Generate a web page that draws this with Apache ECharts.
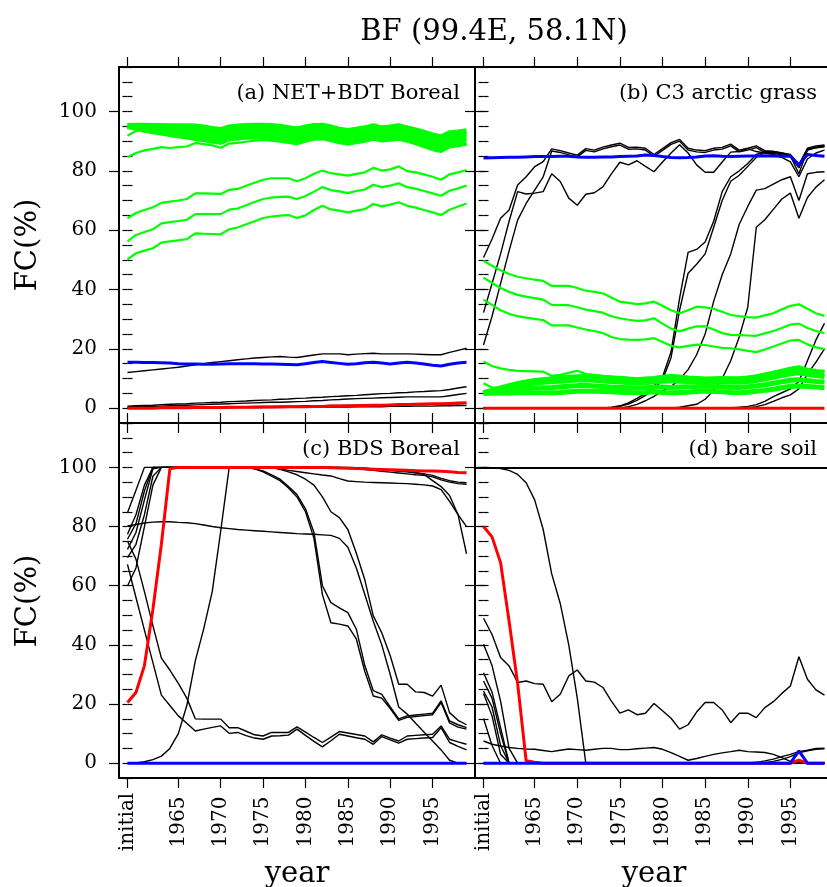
<!DOCTYPE html>
<html><head><meta charset="utf-8">
<script src="https://cdn.jsdelivr.net/npm/echarts@6/dist/echarts.min.js"></script>
<style>html,body{margin:0;padding:0;background:#fff}#c{width:827px;height:887px}</style>
</head><body><div id="c"></div>
<script>
// ---------- tick labels ----------
const tickPos = [0, 6, 11, 16, 21, 26, 31, 36];
const tickLabels = ['initial', '1965', '1970', '1975', '1980', '1985', '1990', '1995'];
const yTicks = [0, 20, 40, 60, 80, 100];
const panelTitles = ['(a) NET+BDT Boreal', '(b) C3 arctic grass', '(c) BDS Boreal', '(d) bare soil'];
const dTopLine = 100;

// ---------- panel (a) ----------
const aBandTop = [95.3,95.4,95.4,95.3,95.3,95.2,95.2,95.2,95.1,94.8,
94.3,93.9,94.8,95.1,95.3,95.4,95.4,95.3,95.0,94.5,
94.1,94.8,95.3,95.4,94.8,94.0,93.6,94.0,94.5,95.2,
94.5,94.8,95.2,94.5,93.8,93.0,92.1,91.4,92.8,93.1,
93.5];
const aBand2 = [95.3,95.2,95.0,94.7,94.5,94.3,94.2,94.0,93.8,93.4,
93.0,92.6,93.6,93.9,94.1,94.2,94.3,94.0,93.7,93.2,
92.8,93.6,94.1,94.3,93.6,92.9,92.4,92.8,93.3,94.0,
93.3,93.7,94.1,93.4,92.6,91.7,90.8,90.0,91.5,91.9,
92.4];
const aBand3 = [95.1,94.7,94.3,94.0,93.6,93.2,92.9,92.6,92.3,91.9,
91.5,91.1,92.2,92.5,92.7,92.8,92.9,92.6,92.2,91.8,
91.3,92.1,92.7,92.9,92.2,91.5,91.0,91.4,91.9,92.6,
92.0,92.3,92.7,92.0,91.2,90.2,89.3,88.5,90.1,90.5,
91.0];
const aBand4 = [94.9,94.3,93.7,93.2,92.7,92.2,91.8,91.4,90.9,90.5,
90.0,89.6,90.8,91.1,91.3,91.4,91.4,91.1,90.7,90.3,
89.9,90.7,91.3,91.5,90.8,90.1,89.6,90.0,90.5,91.2,
90.6,90.9,91.3,90.6,89.8,88.8,87.8,87.0,88.6,89.0,
89.5];
const aGreen92 = [91.8,93.4,94.3,94.6,94.8,94.6,94.5,94.4,94.3,93.9,
93.5,93.2,94.1,94.4,94.6,94.7,94.8,94.6,94.3,93.8,
93.4,94.1,94.6,94.8,94.1,93.4,93.0,93.4,93.9,94.6,
93.9,94.3,94.7,94.0,93.3,92.4,91.5,90.8,92.2,92.6,
93.0];
const aGreen85 = [84.6,86.0,86.9,87.4,88.0,87.7,88.0,88.2,89.4,89.0,
88.6,87.8,89.2,89.4,89.8,90.2,90.4,90.2,89.8,89.4,
89.0,89.8,90.5,90.7,90.0,89.3,88.9,89.3,89.8,90.5,
89.9,90.2,90.5,89.8,89.0,88.0,87.0,86.4,87.9,88.3,
88.8];
const aGreen64 = [64.0,65.8,66.8,67.7,69.2,69.6,70.0,70.5,72.4,72.4,
72.3,72.2,73.6,73.9,75.0,76.0,77.0,77.5,77.5,77.5,
76.5,77.5,79.0,80.1,79.2,78.8,78.4,79.0,79.5,81.0,
80.1,80.5,81.5,79.9,79.5,78.8,78.0,77.0,78.8,79.5,
80.3];
const aGreen56 = [56.2,58.4,59.4,60.3,62.3,62.7,63.1,63.5,65.4,65.4,
65.4,65.4,66.9,67.3,68.4,69.5,70.5,71.0,71.2,71.3,
70.5,71.5,73.0,74.5,73.5,73.1,72.5,73.2,73.7,75.3,
74.5,75.0,75.8,74.5,74.0,73.2,72.4,71.6,73.3,74.1,
75.0];
const aGreen50 = [50.2,52.2,53.1,53.9,55.8,56.2,56.6,57.0,58.9,58.8,
58.7,58.6,60.3,60.9,62.0,63.0,64.1,64.6,64.9,65.1,
64.1,65.0,66.8,68.2,67.0,66.6,66.0,66.6,67.1,68.8,
68.0,68.6,69.4,68.2,67.6,66.8,66.0,65.1,66.9,68.0,
69.0];
const aBlack12 = [12.0,12.3,12.6,12.9,13.2,13.5,13.8,14.2,14.6,15.0,
15.4,15.7,16.0,16.3,16.6,16.9,17.1,17.3,17.4,17.2,
17.1,17.5,17.9,18.3,18.3,18.3,18.0,18.2,18.4,18.5,
18.3,18.3,18.3,18.3,18.2,18.1,18.0,18.0,18.8,19.5,
20.2];
const aBlack7 = [0.7,0.8,0.9,1.0,1.2,1.3,1.4,1.5,1.7,1.8,
1.9,2.0,2.2,2.3,2.4,2.6,2.7,2.8,3.0,3.1,
3.3,3.4,3.6,3.7,3.9,4.0,4.2,4.3,4.5,4.7,
4.9,5.0,5.2,5.3,5.5,5.6,5.8,5.9,6.3,6.8,
7.2];
const aBlack5 = [0.4,0.5,0.6,0.6,0.7,0.8,0.9,1.0,1.1,1.2,
1.3,1.4,1.5,1.6,1.7,1.8,1.9,2.0,2.0,2.1,
2.2,2.3,2.5,2.6,2.8,2.9,3.1,3.2,3.3,3.4,
3.5,3.6,3.7,3.8,3.8,3.8,3.8,3.8,4.2,4.6,
5.0];
const aBlack2 = [0.1,0.1,0.1,0.2,0.2,0.2,0.3,0.3,0.3,0.4,
0.4,0.4,0.5,0.5,0.5,0.6,0.6,0.6,0.7,0.7,
0.7,0.8,0.8,0.8,0.9,0.9,0.9,1.0,1.0,1.0,
1.1,1.1,1.1,1.2,1.2,1.2,1.3,1.3,1.4,1.5,
1.6];
const aBlack1 = [0,0,0,0,0,0,0,0.1,0.1,0.1,
0.1,0.1,0.1,0.2,0.2,0.2,0.2,0.2,0.3,0.3,
0.3,0.3,0.3,0.4,0.4,0.4,0.4,0.5,0.5,0.5,
0.5,0.6,0.6,0.6,0.7,0.7,0.7,0.8,0.8,0.9,
0.9];
const aRed = [0,0,0,0,0.1,0.1,0.1,0.1,0.2,0.2,
0.2,0.2,0.3,0.3,0.3,0.3,0.4,0.4,0.4,0.5,
0.5,0.5,0.6,0.6,0.7,0.7,0.8,0.8,0.9,1.0,
1.0,1.1,1.2,1.2,1.3,1.4,1.5,1.5,1.6,1.7,
1.8];
const aBlue = [15.5,15.5,15.4,15.4,15.3,15.2,15.0,14.9,14.9,14.8,
14.8,14.9,15.0,15.0,15.0,15.0,14.9,14.9,14.8,14.7,
14.6,15.0,15.4,15.7,15.4,15.1,14.8,15.0,15.3,15.5,
15.2,14.9,15.2,15.5,15.2,14.9,14.5,14.2,14.8,15.2,
15.5];

// ---------- panel (b) ----------
const bBlue = [84.3,84.4,84.5,84.6,84.6,84.7,84.8,84.8,84.8,84.9,
84.9,84.7,84.6,84.6,84.7,84.7,84.8,84.9,85.0,85.3,
85.2,84.8,84.5,84.4,84.5,84.7,85.0,85.1,84.9,84.8,
84.9,85.0,85.0,85.1,85.0,84.9,85.0,82.0,85.5,85.2,
84.9];
const bRed = [0,0,0,0,0,0,0,0,0,0,
0,0,0,0,0,0,0,0,0,0,
0,0,0,0,0,0,0,0,0,0,
0,0,0,0,0,0,0,0,0,0,
0];
const bGreen50 = [49.7,48.0,46.5,45.2,44.3,43.8,43.3,42.9,41.2,41.2,
41.2,40.5,39.6,39.2,38.7,37.3,35.9,35.5,35.1,35.3,
35.9,34.5,33.0,32.0,33.0,34.2,34.0,33.5,32.5,31.4,
31.0,30.7,30.5,31.3,32.0,33.3,34.5,35.0,33.5,32.0,
31.1];
const bGreen44 = [44.0,42.2,40.5,39.2,38.2,37.6,37.1,36.6,34.8,34.7,
34.7,34.0,33.2,32.7,32.2,31.0,30.3,29.8,29.4,29.6,
30.3,28.5,26.8,25.9,26.8,27.6,27.6,26.5,25.3,24.7,
24.6,24.5,24.4,25.2,26.0,27.0,28.2,28.5,27.0,26.0,
25.3];
const bGreen37 = [36.6,34.8,33.0,31.8,31.0,30.5,30.1,29.7,27.9,27.9,
27.9,27.2,26.5,26.0,25.3,24.0,23.3,23.1,23.0,23.2,
23.6,22.3,21.0,20.5,21.0,21.4,21.3,20.8,20.3,20.2,
19.8,19.3,18.9,19.8,20.8,21.8,22.8,23.0,21.5,20.5,
19.9];
const bGreen16 = [15.7,14.2,13.4,12.9,12.6,12.5,12.4,12.3,10.9,11.2,
11.9,12.6,11.5,11.2,10.8,10.6,10.4,10.1,9.9,9.9,
10.2,10.6,10.9,10.7,10.4,10.2,10.0,10.1,10.2,10.1,
10.1,10.4,10.8,11.4,12.0,12.7,13.3,13.8,13.0,12.6,
12.3];
const bGreen8 = [8.4,7.0,6.8,7.2,7.6,8.0,8.3,8.6,8.9,9.1,
9.3,9.5,9.4,9.2,9.0,8.8,8.6,8.5,8.4,8.3,
8.6,9.0,9.4,9.2,8.9,8.6,8.4,8.5,8.6,8.6,
8.7,8.9,9.3,9.9,10.5,11.2,11.8,12.3,11.6,11.2,
10.9];
const bBand1 = [5.0,5.0,5.1,5.1,5.2,5.2,5.2,5.2,5.2,5.3,
5.5,5.7,5.8,5.7,5.6,5.5,5.4,5.3,5.2,5.3,
5.5,5.3,5.2,5.3,5.4,5.6,5.8,5.6,5.5,5.3,
5.2,5.4,5.7,6.0,6.4,6.9,7.4,7.5,7.3,7.1,
6.9];
const bBand2 = [5.0,5.4,5.8,6.1,6.4,6.6,6.8,6.9,7.0,7.2,
7.4,7.6,7.7,7.5,7.3,7.1,7.0,6.9,6.8,6.9,
7.1,7.1,7.0,7.1,7.2,7.3,7.5,7.3,7.2,7.0,
7.0,7.2,7.5,7.9,8.4,8.9,9.4,9.6,9.3,9.0,
8.8];
const bBand3 = [5.1,5.8,6.6,7.2,7.8,8.2,8.5,8.7,8.9,9.1,
9.3,9.5,9.6,9.4,9.2,9.0,8.8,8.6,8.5,8.6,
8.9,9.1,9.2,9.1,9.0,8.9,8.9,8.8,8.8,8.7,
8.7,8.9,9.3,9.8,10.4,11.0,11.6,11.9,11.4,11.0,
10.7];
const bBand4 = [5.2,6.0,6.8,7.6,8.3,8.8,9.3,9.6,9.9,10.2,
10.4,10.6,10.7,10.6,10.4,10.2,10.1,9.8,9.6,9.8,
10.0,10.4,10.7,10.5,10.2,10.0,9.8,9.9,10.0,9.9,
9.9,10.2,10.6,11.2,11.8,12.5,13.1,13.6,12.8,12.4,
12.1];
const bBlack51 = [50.8,57.0,64.0,66.8,75.2,78.0,81.4,83.1,87.4,86.8,
86.0,85.3,87.5,87.0,88.0,88.7,89.3,87.9,88.0,87.6,
85.5,87.5,89.5,90.6,87.6,87.0,86.8,87.6,87.9,89.0,
87.0,87.6,88.4,86.8,86.5,86.0,85.3,82.0,87.6,88.4,
88.7];
const bBlack32 = [32.2,42.0,52.0,63.0,73.0,72.2,72.5,73.0,79.0,76.4,
70.8,68.4,72.1,72.6,74.6,79.0,82.9,82.0,83.4,81.5,
79.7,83.0,86.0,88.8,86.0,82.0,79.5,79.5,83.0,86.3,
86.5,87.5,86.5,86.0,85.5,84.5,83.0,78.0,84.0,86.0,
87.0];
const bBlack21 = [21.3,31.0,42.0,53.0,63.4,69.0,73.5,78.0,86.7,86.2,
85.4,84.7,86.9,86.4,87.4,88.1,88.7,87.3,87.4,87.0,
84.9,86.9,88.9,90.0,87.0,86.4,86.2,87.0,87.3,88.4,
86.4,87.0,87.8,86.2,85.9,85.4,84.7,81.0,87.0,87.8,
88.1];
const bRise80a = [0,0,0,0,0,0,0,0,0,0,
0,0,0,0,0,0.3,0.8,1.8,3.3,5.0,
7.5,10.5,19.0,37.0,52.5,53.5,56.0,63.0,73.0,78.0,
80.0,82.5,85.5,86.5,86.5,86.0,85.5,82.0,87.5,88.0,
88.5];
const bRise80b = [0,0,0,0,0,0,0,0,0,0,
0,0,0,0,0,0.2,0.6,1.4,2.6,4.3,
6.5,9.5,17.0,33.0,45.5,48.5,52.0,61.0,70.0,76.5,
78.5,81.5,84.5,86.3,86.2,85.8,85.0,79.0,87.0,87.8,
88.3];
const bRise85 = [0,0,0,0,0,0,0,0,0,0,
0,0,0,0,0,0,0,0.5,1.3,2.5,
4.0,5.8,7.3,9.7,13.0,18.0,25.0,36.0,45.0,52.0,
62.0,68.0,73.5,74.0,75.5,77.0,78.0,70.0,79.0,79.5,
79.7];
const bRise90 = [0,0,0,0,0,0,0,0,0,0,
0,0,0,0,0,0,0,0,0,0,
0,0,0,0.3,0.8,1.3,3.0,6.0,10.0,16.0,
24.0,34.0,61.0,63.5,67.0,70.5,72.5,64.0,71.0,74.5,
77.0];
const bRise95a = [0,0,0,0,0,0,0,0,0,0,
0,0,0,0,0,0,0,0,0,0,
0,0,0,0,0,0,0,0,0,0.1,
0.3,0.6,1.2,2.3,3.9,5.2,6.5,9.0,16.0,23.0,
28.6];
const bRise95b = [0,0,0,0,0,0,0,0,0,0,
0,0,0,0,0,0,0,0,0,0,
0,0,0,0,0,0,0,0,0,0,
0.1,0.2,0.5,1.2,2.3,3.5,4.5,6.5,11.5,15.5,
20.0];

// ---------- panel (c) ----------
const cRed = [20.5,23.9,33.0,52.0,74.0,99.5,100,100,100,100,
100,100,100,100,100,100,100,100,100,100,
100,100,100,100,99.9,99.8,99.7,99.6,99.5,99.4,
99.3,99.2,99.1,99.0,98.9,98.8,98.8,98.7,98.5,98.3,
98.2];
const cBlue = [0,0,0,0,0,0,0,0,0,0,
0,0,0,0,0,0,0,0,0,0,
0,0,0,0,0,0,0,0,0,0,
0,0,0,0,0,0,0,0,0,0,
0];
const cHigh1 = [84.7,92.3,100,100,100,100,100,100,100,100,
100,100,100,100,100,100,100,100,100,100,
100,100,100,100,100,100,100,99.9,99.7,99.5,
99.2,99.0,98.7,98.5,98.2,97.8,97.3,96.3,95.5,95.0,
94.8];
const cHigh2 = [77.4,84.0,94.0,100,100,100,100,100,100,100,
100,100,100,100,100,100,100,100,100,100,
100,100,100,100,100,100,99.8,99.6,99.3,99.0,
98.7,98.4,98.1,97.8,97.5,97.3,96.8,95.8,95.0,94.5,
94.3];
const cHigh3 = [75.7,81.0,92.0,100,100,100,100,100,100,100,
100,100,100,100,100,100,100,100,99.5,99.0,
98.6,98.2,97.8,97.4,97.1,96.2,95.4,95.2,95.0,94.9,
94.8,94.7,94.6,94.5,94.3,94.1,93.7,92.5,88.5,84.0,
80.0];
const cHigh4 = [72.3,78.0,89.0,99.5,100,100,100,100,100,100,
100,100,100,100,100,100,100,100,100,100,
100,100,100,100,100,99.9,99.8,99.7,99.6,99.5,
99.3,99.1,98.9,98.6,98.2,97.6,95.5,93.5,90.5,84.0,
70.8];
const cDropA1 = [69.5,74.0,84.0,97.0,100,100,100,100,100,100,
100,100,100,100,100,99.5,98.8,97.5,96.0,93.5,
90.8,86.0,78.0,60.0,54.3,52.5,50.9,45.3,33.0,24.5,
23.3,19.0,15.0,16.0,16.3,16.6,16.9,21.1,14.3,13.0,
12.0];
const cDropA2 = [59.9,66.0,80.0,94.0,100,100,100,100,100,100,
100,100,100,100,100,99.5,98.5,97.0,95.5,93.0,
90.0,85.0,76.0,57.0,47.5,47.0,46.4,42.0,31.0,22.7,
22.0,18.5,14.5,15.5,15.8,16.1,16.4,20.5,13.6,12.2,
11.5];
const cRiseDrop = [0,0.1,0.5,1.2,2.4,5.0,10.0,19.5,34.6,45.5,
58.0,78.5,100,100,100,100,100,100,99.3,98.5,
97.5,96.0,94.0,90.0,85.0,83.0,79.0,71.0,62.0,49.8,
44.1,36.3,26.7,26.7,24.1,23.9,22.7,26.4,17.1,14.5,
13.0];
const cFlat80 = [80.2,80.7,81.2,81.5,81.6,81.6,81.4,81.3,81.0,80.5,
80.0,79.6,79.3,79.0,78.8,78.6,78.4,78.2,78.0,77.8,
77.6,77.5,77.4,77.2,77.0,76.0,73.0,66.0,57.0,48.0,
40.0,30.0,19.0,16.6,13.5,10.5,7.5,4.5,1.0,0,
0];
const cFall75 = [75.1,69.0,58.0,46.5,35.5,31.5,27.0,22.0,15.0,14.9,
14.9,14.9,12.0,12.0,10.8,9.6,9.2,10.4,10.4,10.4,
12.3,10.5,8.7,7.0,8.8,10.7,10.2,9.7,9.2,7.2,
9.6,8.5,7.5,9.2,9.4,9.6,9.8,12.6,8.1,7.2,
6.4];
const cFall67 = [67.2,56.0,45.0,34.0,23.0,19.5,16.0,13.5,10.9,11.5,
12.1,12.6,10.1,10.4,9.3,8.5,8.1,9.2,9.3,9.5,
11.5,9.4,7.4,5.5,7.6,9.8,9.2,8.6,8.1,6.4,
9.0,7.9,6.8,8.1,8.3,8.5,8.7,12.0,7.0,5.7,
4.5];

// ---------- panel (d) ----------
const dRed = [80.0,76.5,67.8,48.0,27.0,0.8,0.3,0,0,0,
0,0,0,0,0,0,0,0,0,0,
0,0,0,0,0,0,0,0,0,0,
0,0,0,0,0,0,0,1.0,0,0,
0];
const dBlue = [0,0,0,0,0,0,0,0,0,0,
0,0,0,0,0,0,0,0,0,0,
0,0,0,0,0,0,0,0,0,0,
0,0,0,0,0,0,0,4.2,0,0,
0];
const dFall100 = [100,99.9,99.6,99.0,97.6,94.8,89.0,79.0,64.0,54.0,
40.0,22.0,0,0,0,0,0,0,0,0,
0,0,0,0,0,0,0,0,0,0,
0,0,0,0,0,0,0,0,0,0,
0];
const dWander = [49.0,43.5,35.7,32.9,27.3,27.8,26.9,26.7,20.8,23.3,
29.5,31.5,27.8,27.4,25.6,21.0,16.9,18.0,16.4,16.9,
20.2,17.7,15.2,11.5,13.0,17.3,20.5,20.5,18.0,13.7,
16.9,16.9,15.4,18.8,20.8,23.6,26.1,36.0,28.4,24.8,
23.0];
const dFall40 = [40.2,33.0,21.0,5.0,0,0,0,0,0,0,
0,0,0,0,0,0,0,0,0,0,
0,0,0,0,0,0,0,0,0,0,
0,0,0,0,0,0,0,0,0,0,
0];
const dFall31 = [30.6,24.0,12.0,0,0,0,0,0,0,0,
0,0,0,0,0,0,0,0,0,0,
0,0,0,0,0,0,0,0,0,0,
0,0,0,0,0,0,0,0,0,0,
0];
const dFall28 = [27.8,22.0,10.0,0,0,0,0,0,0,0,
0,0,0,0,0,0,0,0,0,0,
0,0,0,0,0,0,0,0,0,0,
0,0,0,0,0,0,0,0,0,0,
0];
const dFall24 = [24.4,19.0,6.0,0,0,0,0,0,0,0,
0,0,0,0,0,0,0,0,0,0,
0,0,0,0,0,0,0,0,0,0,
0,0,0,0,0,0,0,0,0,0,
0];
const dFall23 = [23.6,16.0,3.0,0,0,0,0,0,0,0,
0,0,0,0,0,0,0,0,0,0,
0,0,0,0,0,0,0,0,0,0,
0,0,0,0,0,0,0,0,0,0,
0];
const dFall15 = [15.1,6.0,0,0,0,0,0,0,0,0,
0,0,0,0,0,0,0,0,0,0,
0,0,0,0,0,0,0,0,0,0,
0,0,0,0,0,0,0,0,0,0,
0];
const dLow5 = [7.5,6.4,5.8,5.3,5.0,4.8,4.7,4.3,3.9,4.4,
4.8,4.6,4.4,4.7,5.0,5.0,4.6,4.6,4.9,5.1,
5.3,4.7,3.6,2.3,1.0,1.6,2.3,3.0,3.5,3.9,
4.4,3.9,3.8,3.6,3.0,1.9,0.6,0,0,0,
0];
const dRiseA = [0,0,0,0,0,0,0,0,0,0,
0,0,0,0,0,0,0,0,0,0,
0,0,0,0,0,0,0,0,0,0,
0,0,0.3,0.8,1.4,2.2,3.0,3.9,4.4,5.0,
5.1];
const dRiseB = [0,0,0,0,0,0,0,0,0,0,
0,0,0,0,0,0,0,0,0,0,
0,0,0,0,0,0,0,0,0,0,
0,0,0,0.2,0.6,1.3,2.2,3.5,4.2,4.7,
4.9];

// ---------- assemble ----------
const panels = [
  {black:[aBlack12,aBlack7,aBlack5,aBlack2,aBlack1], green:[aGreen64,aGreen56,aGreen50,aGreen85,aGreen92], band:[aBandTop,aBand2,aBand3,aBand4], red:[aRed], blue:[aBlue]},
  {black:[bBlack51,bBlack32,bBlack21,bRise80a,bRise80b,bRise85,bRise90,bRise95a,bRise95b], green:[bGreen50,bGreen44,bGreen37,bGreen16,bGreen8], band:[bBand1,bBand2,bBand3,bBand4], red:[bRed], blue:[bBlue]},
  {black:[cHigh1,cHigh2,cHigh3,cHigh4,cDropA1,cDropA2,cRiseDrop,cFlat80,cFall75,cFall67], green:[], band:[], red:[cRed], blue:[cBlue]},
  {black:[dFall100,dWander,dFall40,dFall31,dFall28,dFall24,dFall23,dFall15,dLow5,dRiseA,dRiseB], green:[], band:[], red:[dRed], blue:[dBlue]}
];

const FONT = 'DejaVu Serif';
const grids = [
  {left:119, top:67, width:356, height:356},
  {left:475, top:67, width:358, height:356},
  {left:119, top:423, width:356, height:355},
  {left:475, top:423, width:358, height:355}
].map(g => Object.assign({outerBoundsMode:'none', containLabel:false}, g));

const AXC = '#000';
const xAxes = [], yAxes = [];
for (let g = 0; g < 4; g++) {
  const bottomRow = g >= 2, leftCol = g % 2 === 0;
  const xBase = {gridIndex:g, type:'value', min:-1, max:41, splitLine:{show:false},
    axisLine:{show:true, onZero:false, lineStyle:{color:AXC, width:2}},
    axisTick:{show:true, customValues:tickPos, length:10, lineStyle:{color:AXC, width:1.2}}};
  xAxes.push(Object.assign({}, xBase, {position:'bottom',
    axisLabel:{show:bottomRow, customValues:tickPos, formatter:(v)=>tickLabels[tickPos.indexOf(v)],
      rotate:90, align:'center', margin:44, fontFamily:FONT, fontSize:20, color:'#000'}}));
  xAxes.push(Object.assign({}, xBase, {position:'top', axisLabel:{show:false}}));
  for (const side of ['left','right']) {
    yAxes.push({gridIndex:g, type:'value', min:-5, max:115, position:side, splitLine:{show:false},
      axisLine:{show:true, onZero:false, lineStyle:{color:AXC, width:2}},
      axisTick:{show:true, customValues:yTicks, length:10, lineStyle:{color:AXC, width:1.2}},
      axisLabel:{show: side==='left' && leftCol, customValues:yTicks, margin:22, fontFamily:FONT, fontSize:20, color:'#000'}});
    yAxes.push({gridIndex:g, type:'value', min:-5, max:115, interval:5, position:side, splitLine:{show:false},
      axisLine:{show:false}, axisTick:{show:true, length:5, lineStyle:{color:AXC, width:1.2}}, axisLabel:{show:false}});
  }
}

const pts = arr => arr.map((v, i) => [i, v]);
const series = [];
function addLine(g, arr, color, width, z) {
  series.push({type:'line', xAxisIndex:2*g, yAxisIndex:4*g, data:pts(arr), symbol:'none', showSymbol:false,
    lineStyle:{color:color, width:width}, itemStyle:{color:color}, z:z, silent:true, animation:false});
}
panels.forEach((p, g) => {
  p.black.forEach(a => addLine(g, a, '#000000', 1.4, 2));
  p.band.forEach(a => addLine(g, a, '#00ff00', 5, 3));
  p.green.forEach(a => addLine(g, a, '#00ff00', 2.2, 3));
  p.red.forEach(a => addLine(g, a, '#ff0000', 3, 4));
  p.blue.forEach(a => addLine(g, a, '#0000ff', 3, 5));
});
// reference line at 100 in panel (d)
series.push({type:'line', xAxisIndex:6, yAxisIndex:12, data:[], silent:true, animation:false,
  markLine:{silent:true, symbol:['none','none'], animation:false, label:{show:false},
    lineStyle:{color:'#000', width:2, type:'solid'}, data:[{yAxis:dTopLine}]}});

const txt = (text, x, y, size, align, rot) => ({type:'text', x:x, y:y, rotation:rot||0, silent:true,
  style:{text:text, font: size + 'px "' + FONT + '"', fill:'#000', align:align||'center', verticalAlign:'middle'}});

const graphic = [
  txt('BF (99.4E, 58.1N)', 494, 32, 29),
  txt('FC(%)', 28, 245, 29, 'center', Math.PI/2),
  txt('FC(%)', 28, 601, 29, 'center', Math.PI/2),
  txt('year', 297, 874, 29),
  txt('year', 654, 874, 29),
  txt(panelTitles[0], 460, 94, 21, 'right'),
  txt(panelTitles[1], 817, 94, 21, 'right'),
  txt(panelTitles[2], 460, 450, 21, 'right'),
  txt(panelTitles[3], 817, 450, 21, 'right')
];

const chart = echarts.init(document.getElementById('c'), null, {renderer:'canvas'});
chart.setOption({
  animation:false,
  backgroundColor:'#fff',
  textStyle:{fontFamily:FONT},
  grid:grids, xAxis:xAxes, yAxis:yAxes, series:series, graphic:graphic
});
</script></body></html>
